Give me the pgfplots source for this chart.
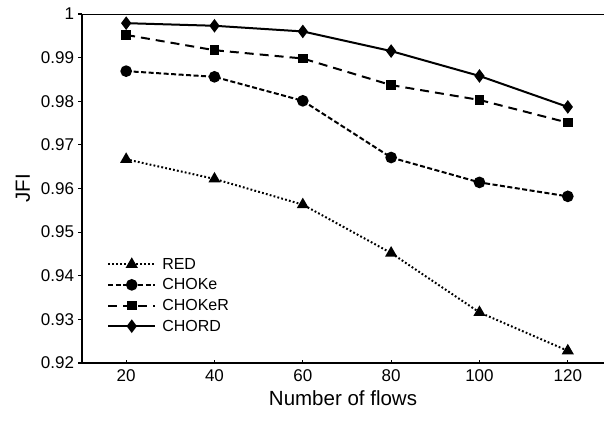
\documentclass[border=0pt]{standalone}
\usepackage{pgfplots}
\pgfplotsset{compat=1.18}
\usepackage{fontspec}
\setmainfont{Liberation Sans}
\begin{document}
\begin{tikzpicture}
\begin{axis}[
  scale only axis,
  width=522pt, height=349pt,
  xmin=10, xmax=128.2,
  ymin=0.92, ymax=1,
  axis lines=left,
  axis line style={-, line width=1.5pt},
  xtick={20,40,60,80,100,120},
  ytick={0.92,0.93,0.94,0.95,0.96,0.97,0.98,0.99,1},
  xtick align=inside, ytick align=outside,
  major tick length=3.5pt,
  tick style={line width=1.1pt, black},
  /pgf/number format/assume math mode=true,
  yticklabel style={/pgf/number format/fixed, /pgf/number format/precision=2, xshift=-1pt},
  ticklabel style={font=\fontsize{17}{20}\selectfont},
  xticklabel style={yshift=-3pt},
  xlabel={Number of flows},
  ylabel={JFI},
  label style={font=\fontsize{20.5}{24}\selectfont},
  xlabel style={yshift=-2pt},
  ylabel style={yshift=4pt},
  legend style={draw=none, fill=none, font=\fontsize{16}{19}\selectfont,
    at={(rel axis cs:0.048,0.081)}, anchor=south west,
    row sep=4pt, inner sep=0pt,
    /tikz/every odd column/.append style={column sep=4pt}},
  legend cell align=left,
  legend image code/.code={\draw[mark repeat=2,mark phase=2] plot coordinates {(0pt,0pt)(23.5pt,0pt)(47pt,0pt)};},
]
\addplot[black, line width=2pt, dash pattern=on 1.8pt off 2.2pt, mark=triangle*, mark size=5pt, mark options={solid}] coordinates {
(20,0.9667)(40,0.9622)(60,0.9563)(80,0.9452)(100,0.9316)(120,0.9228)};
\addplot[black, line width=2pt, dash pattern=on 5pt off 2.5pt, mark=*, mark size=4.8pt, mark options={solid}] coordinates {
(20,0.9869)(40,0.9856)(60,0.9801)(80,0.9671)(100,0.9614)(120,0.9582)};
\addplot[black, line width=2pt, dash pattern=on 9pt off 6pt, mark=square*, mark size=3.8pt, mark options={solid}] coordinates {
(20,0.9952)(40,0.9917)(60,0.9898)(80,0.9837)(100,0.9803)(120,0.9751)};
\addplot[black, line width=2pt, solid, mark=diamond*, mark size=5.2pt] coordinates {
(20,0.9979)(40,0.9973)(60,0.9960)(80,0.9915)(100,0.9858)(120,0.9787)};
\legend{RED,CHOKe,CHOKeR,CHORD}
\draw[line width=1.5pt] (rel axis cs:0,1) -- (rel axis cs:1,1);
\end{axis}
\pgfresetboundingbox
\path[use as bounding box] (-82pt,-61pt) rectangle (522pt,363pt);
\end{tikzpicture}
\end{document}
